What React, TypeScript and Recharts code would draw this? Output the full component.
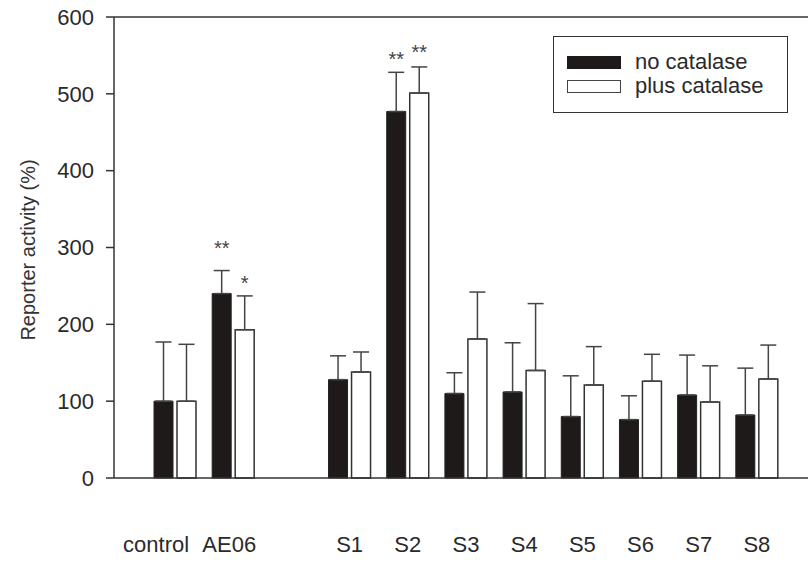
import React from "react"
import { Bar, BarChart, ErrorBar, LabelList, ReferenceLine, XAxis, YAxis } from "recharts"

const categories = ["control", "AE06", "", "S1", "S2", "S3", "S4", "S5", "S6", "S7", "S8"]
const noCatalase = [100, 240, null, 128, 477, 110, 112, 80, 76, 108, 82]
const noCatalaseErr = [77, 30, null, 31, 51, 27, 64, 53, 31, 52, 61]
const plusCatalase = [100, 193, null, 138, 501, 181, 140, 121, 126, 99, 129]
const plusCatalaseErr = [74, 44, null, 26, 34, 61, 87, 50, 35, 47, 44]
// significance marks and the value level they sit at
const noCatalaseSig = ["", "**", "", "", "**", "", "", "", "", "", ""]
const noCatalaseSigAt = [0, 305, 0, 0, 550, 0, 0, 0, 0, 0, 0]
const plusCatalaseSig = ["", "*", "", "", "**", "", "", "", "", "", ""]
const plusCatalaseSigAt = [0, 259, 0, 0, 560, 0, 0, 0, 0, 0, 0]
const yTicks = [0, 100, 200, 300, 400, 500, 600]

const data = categories.map((name, i) => ({
  name,
  no: noCatalase[i],
  noErr: noCatalaseErr[i] == null ? null : [0, noCatalaseErr[i]],
  plus: plusCatalase[i],
  plusErr: plusCatalaseErr[i] == null ? null : [0, plusCatalaseErr[i]],
}))

const FONT = "'Liberation Sans', Arial, sans-serif"
const INK = "#2a2a2a"

function sigLabel(values: (number | null)[], marks: string[], levels: number[]) {
  return (props: any) => {
    const { x, y, width, height, value } = props
    const i = categories.indexOf(value)
    const v = values[i]
    if (i < 0 || !marks[i] || !v) return null
    const perUnit = height / v
    const ty = y + height - levels[i] * perUnit
    return (
      <text x={x + width / 2} y={ty} dy="0.55em" textAnchor="middle" fontSize={20} fill="#444" fontFamily={FONT}>
        {marks[i]}
      </text>
    )
  }
}

// the "control" label sits a little left of its bars in the original
function CategoryTick(props: any) {
  const { x, y, payload } = props
  const shift = payload.value === "control" ? -19 : payload.value === "AE06" ? -4 : 0
  return (
    <text x={x + shift} y={y} dy="0.71em" textAnchor="middle" fontSize={22} fill={INK} fontFamily={FONT}>
      {payload.value}
    </text>
  )
}

function LegendBox() {
  const row = { display: "flex", alignItems: "center", height: 24 }
  const sw = { width: 54, height: 13, marginRight: 14, boxSizing: "border-box" as const }
  return (
    <div
      style={{
        position: "absolute",
        left: 553,
        top: 36,
        border: "1.5px solid #333",
        width: 235,
        height: 77,
        boxSizing: "border-box",
        padding: "13px 0 0 13px",
        fontFamily: FONT,
        fontSize: 22,
        color: INK,
        background: "white",
      }}
    >
      <div style={row}>
        <span style={{ ...sw, background: "#1e1a1a" }} />
        <span>no catalase</span>
      </div>
      <div style={row}>
        <span style={{ ...sw, background: "white", border: "1.5px solid #444" }} />
        <span>plus catalase</span>
      </div>
    </div>
  )
}

export default function App() {
  React.useEffect(() => {
    document.body.style.margin = "0"
  }, [])
  return (
    <div style={{ position: "relative", width: 808, height: 574, background: "white" }}>
      <BarChart width={808} height={574} data={data} margin={{ top: 17, right: 0, left: 0, bottom: 66 }} barSize={19} barGap={4}>
        <XAxis
          dataKey="name"
          interval={0}
          tickLine={false}
          tickSize={0}
          tickMargin={58}
          axisLine={{ stroke: "#333", strokeWidth: 1.5 }}
          padding={{ left: 32, right: 22 }}
          tick={<CategoryTick />}
        />
        <YAxis
          width={114}
          domain={[0, 600]}
          ticks={yTicks}
          interval={0}
          tickSize={8}
          tickMargin={12}
          axisLine={{ stroke: "#333", strokeWidth: 1.5 }}
          tickLine={{ stroke: "#333", strokeWidth: 1.5 }}
          tick={{ fontSize: 22, fill: INK, fontFamily: FONT }}
          label={{
            content: () => (
              <text x={28} y={250} transform="rotate(-90 28 250)" textAnchor="middle" dy="0.35em" fontSize={20} fill="#333" fontFamily={FONT}>
                Reporter activity (%)
              </text>
            ),
          }}
        />
        <ReferenceLine y={600} stroke="#333" strokeWidth={1.5} />
        <Bar dataKey="no" name="no catalase" fill="#1e1a1a" stroke="#222" strokeWidth={1} isAnimationActive={false}>
          <ErrorBar dataKey="noErr" direction="y" width={8} stroke="#444" strokeWidth={1.5} isAnimationActive={false} />
          <LabelList dataKey="name" content={sigLabel(noCatalase, noCatalaseSig, noCatalaseSigAt)} />
        </Bar>
        <Bar dataKey="plus" name="plus catalase" fill="#ffffff" stroke="#333" strokeWidth={1.5} isAnimationActive={false}>
          <ErrorBar dataKey="plusErr" direction="y" width={8} stroke="#444" strokeWidth={1.5} isAnimationActive={false} />
          <LabelList dataKey="name" content={sigLabel(plusCatalase, plusCatalaseSig, plusCatalaseSigAt)} />
        </Bar>
      </BarChart>
      <LegendBox />
    </div>
  )
}
